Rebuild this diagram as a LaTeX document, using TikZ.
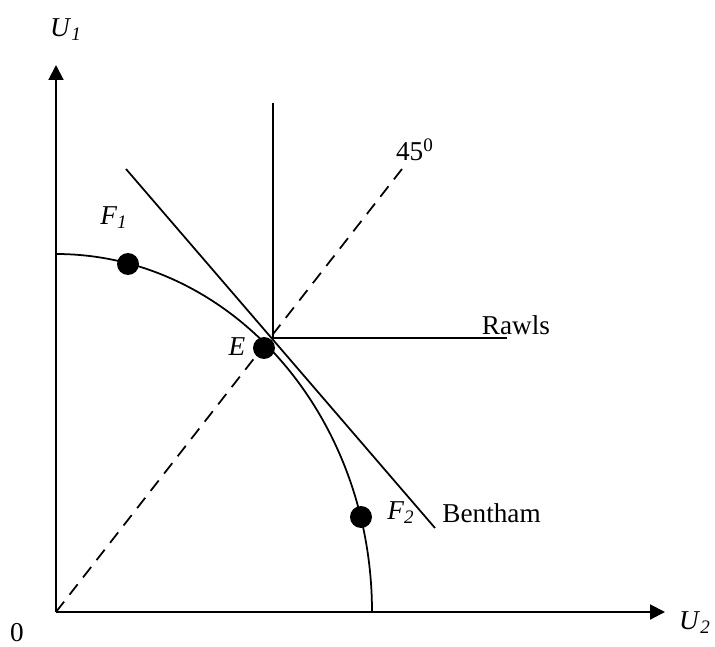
\documentclass[tikz,border=0pt]{standalone}
\usepackage{fontspec}
\setmainfont{Liberation Serif}
\usetikzlibrary{arrows.meta}

\begin{document}
\begin{tikzpicture}[
    x=0.016cm, y=0.016cm,
    every node/.style={font=\fontsize{12.4}{15}\selectfont, inner sep=0pt},
    axis/.style={line width=0.9pt, -{Triangle[length=6.8pt, width=6.8pt]}},
    curve/.style={line width=0.8pt},
    dot/.style={circle, fill=black, minimum size=10pt}
  ]
  \useasboundingbox (-56,-34) rectangle (659,612);

  % axes
  \coordinate (O) at (0,0);
  \coordinate (ytop) at (0,547);
  \coordinate (xend) at (609,0);
  \draw[axis] (O) -- (ytop);
  \draw[axis] (O) -- (xend);
  \node (u1) at (10,582) {\textit{U}\textsubscript{\textit{1}}};
  \node (u2) at (639,-11) {\textit{U}\textsubscript{\textit{2}}};
  \node (zero) at (-39,-21) {0};

  % frontier
  \coordinate (ftop) at (0,358);
  \draw[curve] (ftop) arc[start angle=90, end angle=0, x radius=316, y radius=358];

  % 45 degree line
  \coordinate (diag) at (346,443);
  \draw[curve, dashed, dash pattern=on 6pt off 4pt] (O) -- (diag);
  \node (deg) at (359,462) {45\textsuperscript{0}};

  % Rawls
  \coordinate (rtop) at (217,509);
  \coordinate (rcorner) at (217,274);
  \coordinate (rend) at (451,274);
  \draw[curve] (rtop) -- (rcorner) -- (rend);
  \node (rawls) at (460,287) {Rawls};

  % Bentham
  \coordinate (btop) at (70,443);
  \coordinate (bend) at (379,84);
  \draw[curve] (btop) -- (bend);
  \node[anchor=west] (bentham) at (386,99) {Bentham};

  % points
  \node[dot] (F1) at (72,348) {};
  \node[dot] (E) at (208,264) {};
  \node[dot] (F2) at (305,95) {};
  \node (f1lbl) at (58,394) {\textit{F}\textsubscript{\textit{1}}};
  \node (elbl) at (181,265) {\textit{E}};
  \node (f2lbl) at (345,99) {\textit{F}\textsubscript{\textit{2}}};
\end{tikzpicture}
\end{document}
